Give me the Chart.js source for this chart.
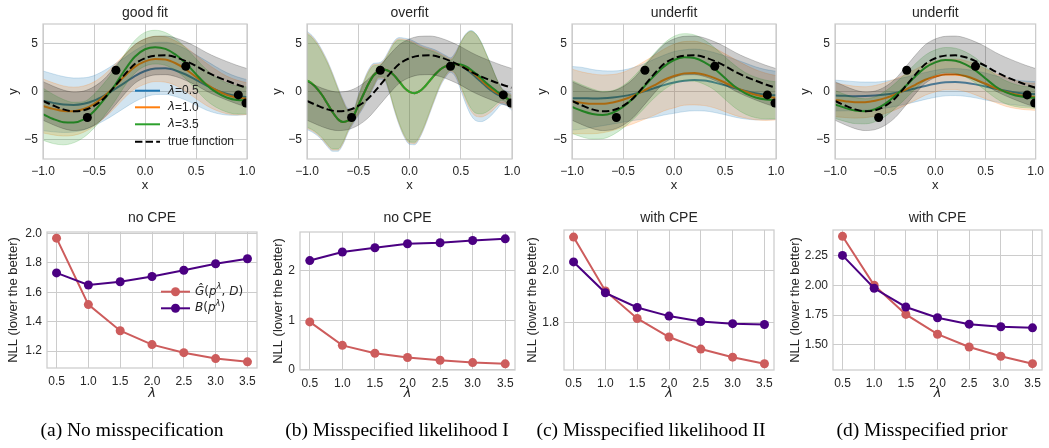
<!DOCTYPE html>
<html>
<head>
<meta charset="utf-8">
<script src="https://cdn.jsdelivr.net/npm/chart.js@4.4.1/dist/chart.umd.min.js"></script>
<style>
  html, body { margin:0; padding:0; background:#ffffff; }
  #wrap { position:relative; width:1049px; height:448px; overflow:hidden; background:#fff; }
  #wrap canvas { position:absolute; left:0; top:0; }
  .cap { position:absolute; top:419px; font-family:"Liberation Serif","Times New Roman",serif; font-size:19.5px; line-height:22px; color:#000; white-space:nowrap; transform:translateX(-50%); }
</style>
</head>
<body>
<div id="wrap">
  <canvas id="t0" width="1049" height="448"></canvas>
  <canvas id="t1" width="1049" height="448"></canvas>
  <canvas id="t2" width="1049" height="448"></canvas>
  <canvas id="t3" width="1049" height="448"></canvas>
  <canvas id="b0" width="1049" height="448"></canvas>
  <canvas id="b1" width="1049" height="448"></canvas>
  <canvas id="b2" width="1049" height="448"></canvas>
  <canvas id="b3" width="1049" height="448"></canvas>
  <div class="cap" style="left:132px">(a) No misspecification</div>
  <div class="cap" style="left:397px">(b) Misspecified likelihood I</div>
  <div class="cap" style="left:651px">(c) Misspecified likelihood II</div>
  <div class="cap" style="left:922px">(d) Misspecified prior</div>
</div>
<script>
// ---------------- DATA ----------------
const gridX = [-1.0,-0.9,-0.8,-0.7,-0.6,-0.5,-0.4,-0.3,-0.2,-0.1,0.0,0.1,0.2,0.3,0.4,0.5,0.6,0.7,0.8,0.9,1.0];
const gridXFine = [-1.0,-0.95,-0.9,-0.85,-0.8,-0.75,-0.7,-0.65,-0.6,-0.55,-0.5,-0.45,-0.4,-0.35,-0.3,-0.25,-0.2,-0.15,-0.1,-0.05,0.0,0.05,0.1,0.15,0.2,0.25,0.3,0.35,0.4,0.45,0.5,0.55,0.6,0.65,0.7,0.75,0.8,0.85,0.9,0.95,1.0];

const obsX = [-0.565,-0.285,0.4,0.915,0.99];
const obsY = [-2.7,2.2,2.62,-0.35,-1.2];

const trueY  = [-0.98,-1.45,-1.85,-2.05,-1.95,-1.5,-0.7,0.5,1.75,2.85,3.45,3.72,3.75,3.55,3.15,2.65,2.05,1.55,1.12,0.72,0.38];
const trueHw = [2,2,2,2,2,2,2,2,2,2,2,2,2,2,2,2,2,2,2,2,2];

// (a) good fit
const goodBlue   = [-0.97,-1.18,-1.35,-1.4,-1.28,-0.95,-0.42,0.22,0.9,1.6,2.12,2.38,2.4,2.18,1.76,1.2,0.63,0.14,-0.24,-0.47,-0.57];
const goodOrange = [-1.5,-1.8,-2.02,-2.05,-1.82,-1.3,-0.5,0.5,1.6,2.55,3.12,3.38,3.32,2.93,2.3,1.52,0.76,0.13,-0.35,-0.62,-0.75];
const goodGreen  = [-2.35,-2.85,-3.18,-3.22,-2.9,-2.05,-0.82,0.58,2.2,3.6,4.38,4.6,4.42,3.83,2.92,1.8,0.7,-0.1,-0.62,-0.88,-0.92];
const goodBlueHw   = [3.1,3.0,2.9,2.8,2.7,2.6,2.6,2.6,2.6,2.65,2.7,2.7,2.7,2.7,2.65,2.6,2.55,2.4,2.2,2.0,1.8];
const goodOrangeHw = [2.8,2.7,2.6,2.5,2.4,2.3,2.25,2.25,2.25,2.3,2.35,2.35,2.35,2.3,2.3,2.25,2.2,2.1,1.95,1.8,1.65];
const goodGreenHw  = [2.7,2.55,2.35,2.1,1.85,1.75,1.7,1.65,1.65,1.7,1.75,1.75,1.7,1.65,1.6,1.6,1.6,1.55,1.5,1.45,1.4];

// (b) overfit
const overGreen  = [1.15,0.8,0.28,-0.42,-1.28,-2.15,-2.85,-3.16,-3.02,-2.6,-1.46,-0.31,0.8,1.67,2.12,2.29,2.12,1.67,1.04,0.38,-0.03,-0.17,0.03,0.52,1.15,1.77,2.29,2.6,2.74,2.85,2.81,2.6,2.26,1.84,1.39,0.87,0.45,0.03,-0.31,-0.69,-1.11];
const overOrange = [1.15,0.8,0.28,-0.42,-1.28,-2.15,-2.85,-3.16,-3.02,-2.6,-1.46,-0.31,0.8,1.67,2.12,2.29,2.12,1.67,1.04,0.38,-0.03,-0.17,0.03,0.52,1.15,1.77,2.29,2.6,2.74,2.83,2.74,2.48,2.1,1.65,1.18,0.68,0.25,-0.12,-0.42,-0.72,-1.12];
const overBlue   = [1.15,0.8,0.28,-0.42,-1.28,-2.15,-2.85,-3.16,-3.02,-2.6,-1.46,-0.31,0.8,1.67,2.12,2.29,2.12,1.67,1.04,0.38,-0.03,-0.17,0.03,0.52,1.15,1.77,2.29,2.6,2.74,2.8,2.66,2.35,1.93,1.46,0.98,0.5,0.08,-0.27,-0.5,-0.74,-1.13];
const overGreenHw  = [4.85,4.75,4.6,4.4,4.2,3.8,3.1,2.1,1.0,0.5,0.8,1.1,1.2,1.0,0.6,0.8,1.9,3.3,4.3,4.9,5.2,5.1,4.6,3.9,3.1,2.3,1.5,0.9,0.5,1.0,2.2,3.3,4.0,4.1,3.7,3.0,2.2,1.3,0.6,0.5,0.6];
const overOrangeHw = [4.97,4.87,4.72,4.52,4.32,3.92,3.22,2.22,1.12,0.62,0.92,1.22,1.32,1.12,0.72,0.92,2.02,3.42,4.42,5.02,5.32,5.22,4.72,4.02,3.22,2.42,1.62,1.02,0.62,1.12,2.32,3.42,4.12,4.22,3.82,3.12,2.32,1.42,0.72,0.62,0.72];
const overBlueHw   = [5.1,5.0,4.85,4.65,4.45,4.05,3.35,2.35,1.25,0.75,1.05,1.35,1.45,1.25,0.85,1.05,2.15,3.55,4.55,5.15,5.45,5.35,4.85,4.15,3.35,2.55,1.75,1.15,0.75,1.3,2.5,3.65,4.4,4.5,4.1,3.4,2.55,1.6,0.85,0.75,0.85];

// (c) underfit (likelihood)
const ulBlue   = [-0.7,-0.7,-0.72,-0.7,-0.62,-0.48,-0.27,0.0,0.32,0.66,0.94,1.12,1.2,1.13,0.92,0.64,0.33,0.05,-0.19,-0.33,-0.4];
const ulOrange = [-1.03,-1.18,-1.28,-1.28,-1.14,-0.86,-0.45,0.07,0.6,1.19,1.6,1.88,1.91,1.74,1.39,0.91,0.42,0.0,-0.34,-0.55,-0.65];
const ulGreen  = [-1.6,-2.02,-2.33,-2.44,-2.2,-1.6,-0.7,0.42,1.57,2.57,3.27,3.55,3.47,3.03,2.33,1.39,0.49,-0.2,-0.62,-0.83,-0.9];
const ulBlueHw   = [3.3,3.2,3.0,2.85,2.75,2.7,2.75,2.85,3.0,3.1,3.2,3.2,3.2,3.15,3.1,3.05,3.0,2.9,2.75,2.6,2.5];
const ulOrangeHw = [3.35,3.2,3.1,3.0,2.9,2.85,2.9,3.0,3.1,3.2,3.3,3.3,3.3,3.2,3.1,3.0,2.9,2.75,2.6,2.45,2.3];
const ulGreenHw  = [2.75,2.7,2.6,2.45,2.3,2.2,2.2,2.25,2.3,2.4,2.45,2.45,2.4,2.3,2.2,2.2,2.2,2.15,2.1,2.0,1.9];

// (d) underfit (prior)
const upBlue   = [-0.42,-0.45,-0.48,-0.47,-0.42,-0.32,-0.15,0.07,0.32,0.58,0.8,0.95,0.98,0.9,0.74,0.52,0.28,0.07,-0.1,-0.22,-0.28];
const upOrange = [-0.87,-1.0,-1.11,-1.11,-0.97,-0.69,-0.31,0.17,0.69,1.22,1.56,1.77,1.77,1.6,1.25,0.8,0.35,-0.03,-0.31,-0.49,-0.56];
const upGreen  = [-1.35,-1.7,-1.98,-2.05,-1.84,-1.28,-0.45,0.52,1.56,2.47,3.02,3.26,3.19,2.81,2.19,1.35,0.52,-0.07,-0.42,-0.59,-0.66];
const upBlueHw   = [1.6,1.55,1.5,1.45,1.4,1.4,1.4,1.4,1.4,1.4,1.4,1.4,1.4,1.4,1.4,1.4,1.35,1.35,1.3,1.3,1.3];
const upOrangeHw = [1.75,1.7,1.65,1.6,1.6,1.6,1.6,1.6,1.6,1.6,1.6,1.6,1.6,1.6,1.6,1.55,1.5,1.5,1.45,1.4,1.4];
const upGreenHw  = [1.45,1.4,1.35,1.3,1.3,1.3,1.3,1.3,1.3,1.3,1.3,1.3,1.3,1.3,1.3,1.25,1.2,1.2,1.15,1.1,1.1];

// bottom row
const lambdas = [0.5,1.0,1.5,2.0,2.5,3.0,3.5];
const nllG_a = [1.967,1.516,1.338,1.244,1.189,1.149,1.127];
const nllB_a = [1.731,1.649,1.671,1.707,1.749,1.793,1.827];
const nllG_b = [0.967,0.493,0.333,0.247,0.193,0.145,0.12];
const nllB_b = [2.207,2.38,2.467,2.547,2.567,2.613,2.647];
const nllG_c = [2.128,1.922,1.817,1.746,1.7,1.669,1.644];
const nllB_c = [2.033,1.915,1.859,1.826,1.805,1.797,1.794];
const nllG_d = [2.41,2.0,1.756,1.59,1.483,1.405,1.343];
const nllB_d = [2.25,1.975,1.818,1.728,1.674,1.652,1.643];

// ticks
const topXTicks = [-1.0,-0.5,0.0,0.5,1.0];
const topXLabels = ['\u22121.0','\u22120.5','0.0','0.5','1.0'];
const topYTicks = [-5,0,5];
const topYLabels = ['\u22125','0','5'];
const lamTicks = [0.5,1.0,1.5,2.0,2.5,3.0,3.5];
const lamLabels = ['0.5','1.0','1.5','2.0','2.5','3.0','3.5'];
const yTicks_a = [1.2,1.4,1.6,1.8,2.0];   const yLabels_a = ['1.2','1.4','1.6','1.8','2.0'];
const yTicks_b = [0,1,2];                 const yLabels_b = ['0','1','2'];
const yTicks_c = [1.8,2.0];               const yLabels_c = ['1.8','2.0'];
const yTicks_d = [1.5,1.75,2.0,2.25];     const yLabels_d = ['1.50','1.75','2.00','2.25'];

const topTitles = ['good fit','overfit','underfit','underfit'];
const botTitles = ['no CPE','no CPE','with CPE','with CPE'];

// ---------------- STYLE ----------------
const W = 1049, H = 448;
const FONT = '"Liberation Sans", Arial, Helvetica, sans-serif';
const MATH = '"DejaVu Sans", sans-serif';
const TXT = '#262626';
const GRID = '#cccccc';
const C = { blue:'#1f77b4', orange:'#ff7f0e', green:'#2ca02c', red:'#cd5c5c', purple:'#4b0082' };
const BAND = { blue:'rgba(31,119,180,0.2)', orange:'rgba(255,127,14,0.2)', green:'rgba(44,160,44,0.2)', grey:'rgba(0,0,0,0.2)' };
const Y_AXIS_W = 40, X_AXIS_H = 30;

const topBoxes = [{l:43,r:247,t:24,b:159},{l:307,r:512,t:24,b:159},{l:572,r:776,t:24,b:159},{l:835,r:1039,t:24,b:159}];
const botBoxes = [{l:47,r:257,t:232,b:368},{l:300,r:515,t:232,b:370},{l:564,r:774,t:230,b:370},{l:833,r:1042,t:230,b:370}];
const botYLabOff = [34,22,32,38];

const DECOR = {};

function drawRuns(c, runs, x, y, size) {
  let cx = x;
  runs.forEach(r => {
    const fs = r.sup ? size * 0.7 : size;
    c.font = (r.it ? 'italic ' : '') + fs + 'px ' + (r.math ? MATH : FONT);
    c.textAlign = 'left';
    c.textBaseline = 'middle';
    c.fillText(r.t, cx, r.sup ? y - size * 0.4 : y);
    cx += c.measureText(r.t).width;
  });
}

const decorPlugin = {
  id: 'decor',
  afterDraw(chart) {
    const o = DECOR[chart.canvas.id]; if (!o) return;
    const c = chart.ctx, a = chart.chartArea;
    c.save();
    c.setLineDash([]);
    c.strokeStyle = GRID; c.lineWidth = 1.25;
    c.strokeRect(a.left, a.top, a.right - a.left, a.bottom - a.top);
    c.fillStyle = TXT; c.textAlign = 'center'; c.textBaseline = 'middle';
    c.font = '14px ' + FONT;
    c.fillText(o.title, (a.left + a.right) / 2, o.titleY);
    c.font = o.xItalic ? ('italic 13px ' + MATH) : ('13px ' + FONT);
    c.fillText(o.xlabel, (a.left + a.right) / 2, o.xlabelY);
    c.save();
    c.translate(a.left - o.ylabelOff, (a.top + a.bottom) / 2);
    c.rotate(-Math.PI / 2);
    c.font = '13px ' + FONT;
    c.fillText(o.ylabel, 0, 0);
    c.restore();
    if (o.legend) {
      const L = o.legend;
      L.items.forEach((it, i) => {
        const y = L.rows[i];
        c.save();
        c.strokeStyle = it.color; c.lineWidth = 2;
        c.setLineDash(it.dash || []);
        c.beginPath(); c.moveTo(L.x0, y); c.lineTo(L.x1, y); c.stroke();
        c.setLineDash([]);
        if (it.marker) {
          c.fillStyle = it.color;
          c.beginPath(); c.arc((L.x0 + L.x1) / 2, y, 4.5, 0, Math.PI * 2); c.fill();
        }
        c.restore();
        c.fillStyle = TXT;
        drawRuns(c, it.runs, L.tx, y, 12);
      });
    }
    c.restore();
  }
};

function pts(xs, ys) { return xs.map((x, i) => ({x: x, y: ys[i]})); }
function shifted(xs, ys, hw, s) { return xs.map((x, i) => ({x: x, y: ys[i] + s * hw[i]})); }

function lineDs(data, color, width, dash) {
  return { data: data, borderColor: color, borderWidth: width, borderDash: dash || [], pointRadius: 0,
           fill: false, cubicInterpolationMode: 'monotone', clip: 0 };
}
function edgeDs(data, color, fill) {
  return { data: data, borderColor: color, borderWidth: 1, pointRadius: 0, backgroundColor: color,
           fill: fill, cubicInterpolationMode: 'monotone', clip: 0 };
}

function fixTicks(vals) { return (s) => { s.ticks = vals.map(v => ({value: v})); }; }

function makeChart(id, box, sx, sy, datasets) {
  const cfgScale = (s, axis) => ({
    type: 'linear', min: s.min, max: s.max,
    afterBuildTicks: fixTicks(s.ticks),
    afterFit: axis === 'x' ? (sc) => { sc.height = X_AXIS_H; } : (sc) => { sc.width = Y_AXIS_W; },
    grid: { color: GRID, lineWidth: 1, drawTicks: false },
    border: { display: false },
    ticks: { autoSkip: false, maxRotation: 0, padding: s.pad, color: TXT,
             font: { family: FONT, size: 12 }, callback: (v, i) => s.labels[i] }
  });
  return new Chart(document.getElementById(id), {
    type: 'line',
    data: { datasets: datasets },
    options: {
      responsive: false, animation: false, devicePixelRatio: 1, events: [],
      layout: { padding: { left: box.l - Y_AXIS_W, top: box.t, right: W - box.r, bottom: H - box.b - X_AXIS_H } },
      plugins: { legend: { display: false }, tooltip: { enabled: false } },
      scales: { x: cfgScale(sx, 'x'), y: cfgScale(sy, 'y') }
    },
    plugins: [decorPlugin]
  });
}

function topDatasets(xs, means, hws) {
  const keys = ['blue', 'orange', 'green'];
  const ds = [];
  means.forEach((m, k) => {
    const key = keys[k];
    ds.push(lineDs(pts(xs, m), C[key], 2));
    ds.push(edgeDs(shifted(xs, m, hws[k], -1), BAND[key], false));
    ds.push(edgeDs(shifted(xs, m, hws[k], 1), BAND[key], '-1'));
  });
  ds.push(lineDs(pts(gridX, trueY), '#000', 2, [7.4, 3.2]));
  ds.push(edgeDs(shifted(gridX, trueY, trueHw, -1), BAND.grey, false));
  ds.push(edgeDs(shifted(gridX, trueY, trueHw, 1), BAND.grey, '-1'));
  ds.push({ data: pts(obsX, obsY), showLine: false, pointRadius: 4.5, pointHoverRadius: 4.5,
            pointBackgroundColor: '#000', pointBorderWidth: 0, clip: 0 });
  ds.forEach((d, i) => { d.order = ds.length - i; });
  return ds;
}

function botDatasets(g, b) {
  const mk = (ys, color) => ({ data: pts(lambdas, ys), borderColor: color, backgroundColor: color, borderWidth: 2,
    pointRadius: 4.5, pointBackgroundColor: color, pointBorderWidth: 0, fill: false, tension: 0, clip: 6 });
  const ds = [mk(g, C.red), mk(b, C.purple)];
  ds.forEach((d, i) => { d.order = ds.length - i; });
  return ds;
}

// ---------------- BUILD ----------------
const topSets = [
  { xs: gridX, means: [goodBlue, goodOrange, goodGreen], hws: [goodBlueHw, goodOrangeHw, goodGreenHw] },
  { xs: gridXFine, means: [overBlue, overOrange, overGreen], hws: [overBlueHw, overOrangeHw, overGreenHw] },
  { xs: gridX, means: [ulBlue, ulOrange, ulGreen], hws: [ulBlueHw, ulOrangeHw, ulGreenHw] },
  { xs: gridX, means: [upBlue, upOrange, upGreen], hws: [upBlueHw, upOrangeHw, upGreenHw] }
];
const topSX = { min: -1, max: 1, ticks: topXTicks, labels: topXLabels, pad: 5 };
const topSY = { min: -7, max: 7, ticks: topYTicks, labels: topYLabels, pad: 5 };

topSets.forEach((p, i) => {
  const id = 't' + i;
  DECOR[id] = { title: topTitles[i], titleY: 13, xlabel: 'x', xlabelY: 185, ylabel: 'y', ylabelOff: 30 };
  if (i === 0) {
    DECOR[id].legend = { x0: 135, x1: 160, tx: 168, rows: [90.7, 107.3, 124.3, 141.7], items: [
      { color: C.blue,   runs: [{t:'\u03bb', it:true, math:true}, {t:'=0.5'}] },
      { color: C.orange, runs: [{t:'\u03bb', it:true, math:true}, {t:'=1.0'}] },
      { color: C.green,  runs: [{t:'\u03bb', it:true, math:true}, {t:'=3.5'}] },
      { color: '#000', dash: [7.4, 3.2], runs: [{t:'true function'}] }
    ]};
  }
  makeChart(id, topBoxes[i], topSX, topSY, topDatasets(p.xs, p.means, p.hws));
});

const botSets = [
  { g: nllG_a, b: nllB_a, min: 1.085, max: 2.009, ticks: yTicks_a, labels: yLabels_a },
  { g: nllG_b, b: nllB_b, min: -0.005, max: 2.785, ticks: yTicks_b, labels: yLabels_b },
  { g: nllG_c, b: nllB_c, min: 1.62, max: 2.155, ticks: yTicks_c, labels: yLabels_c },
  { g: nllG_d, b: nllB_d, min: 1.29, max: 2.463, ticks: yTicks_d, labels: yLabels_d }
];
const botSX = { min: 0.35, max: 3.65, ticks: lamTicks, labels: lamLabels, pad: 6 };

botSets.forEach((p, i) => {
  const id = 'b' + i;
  DECOR[id] = { title: botTitles[i], titleY: 218, xlabel: '\u03bb', xItalic: true, xlabelY: 394,
                ylabel: 'NLL (lower the better)', ylabelOff: botYLabOff[i] };
  if (i === 0) {
    DECOR[id].legend = { x0: 161, x1: 190, tx: 195, rows: [291.7, 308.3], items: [
      { color: C.red, marker: true, runs: [{t:'\u011c', it:true, math:true}, {t:'(', math:true}, {t:'p', it:true, math:true},
        {t:'\u03bb', it:true, math:true, sup:true}, {t:', ', math:true}, {t:'D', it:true, math:true}, {t:')', math:true}] },
      { color: C.purple, marker: true, runs: [{t:'B', it:true, math:true}, {t:'(', math:true}, {t:'p', it:true, math:true},
        {t:'\u03bb', it:true, math:true, sup:true}, {t:')', math:true}] }
    ]};
  }
  makeChart(id, botBoxes[i], botSX, { min: p.min, max: p.max, ticks: p.ticks, labels: p.labels, pad: 5 }, botDatasets(p.g, p.b));
});
</script>
</body>
</html>
